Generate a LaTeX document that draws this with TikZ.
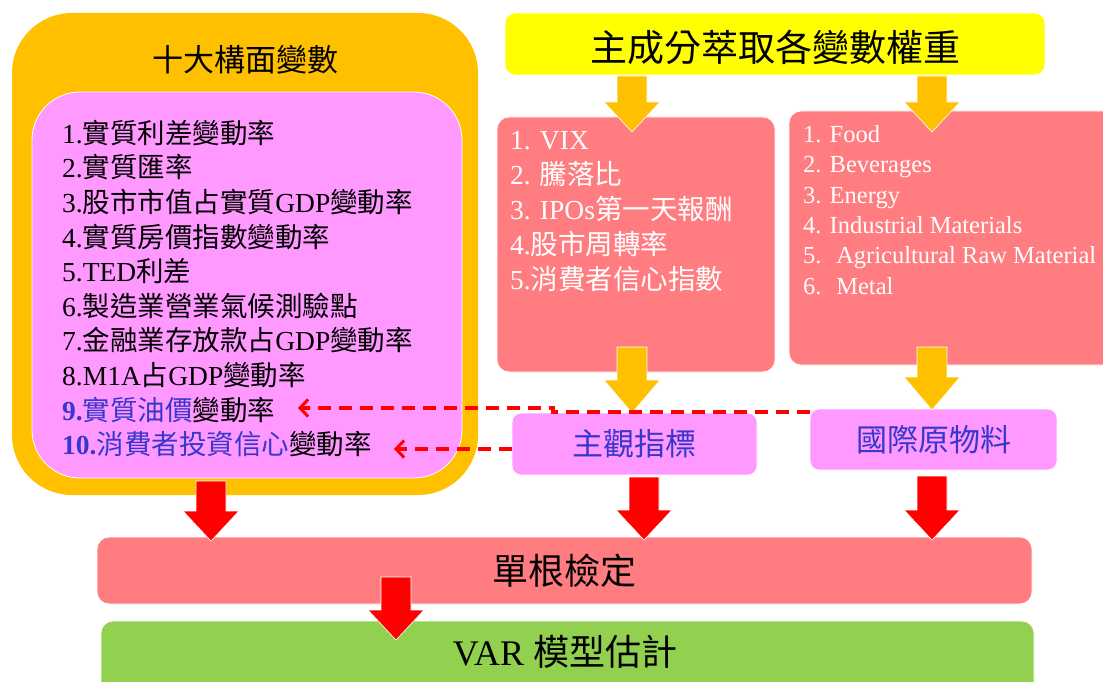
\documentclass[tikz,border=0pt]{standalone}
\usepackage{fontspec}
\setmainfont{Liberation Serif}
\newfontfamily\cjk{Noto Sans CJK TC}
\usetikzlibrary{arrows.meta}
\definecolor{orangeC}{RGB}{255,192,0}
\definecolor{pinkC}{RGB}{255,153,255}
\definecolor{salmonC}{RGB}{255,124,128}
\definecolor{yellowC}{RGB}{255,255,0}
\definecolor{greenC}{RGB}{146,208,80}
\definecolor{blueT}{RGB}{55,55,205}
\definecolor{redC}{RGB}{255,0,0}
\newcommand\fs[2]{\fontsize{#1}{#2}\selectfont}
\newcommand\blockarrow[5]{% colour, x, ytop, ytip, head length
  \fill[#1,draw=white,line width=0.6] ({#2-15},#3) -- ({#2+15},#3) -- ({#2+15},{#4-#5}) -- ({#2+28},{#4-#5}) -- (#2,#4) -- ({#2-28},{#4-#5}) -- ({#2-15},{#4-#5}) -- cycle;}
\begin{document}
\begin{tikzpicture}[x=1pt,y=-1pt,
  boxbase/.style={inner sep=0pt, outer sep=0pt, draw=white, line width=0.8pt},
  listtext/.style={inner sep=0pt, align=left, anchor=west},
  dasharrow/.style={draw=redC, line width=3.2pt, dash pattern=on 13pt off 8pt, -{Straight Barb[length=8pt,width=17pt,line width=3pt]}}]
\useasboundingbox (0,0) rectangle (1103,682);
\clip (0,0) rectangle (1103,682);

% left group
\node[boxbase, fill=orangeC, draw=none, rounded corners=60pt, minimum width=466pt, minimum height=482pt] (outer) at (245,254) {};
\node[boxbase, fill=pinkC, rounded corners=48pt, minimum width=430pt, minimum height=386pt] (inner) at (247,285) {};
\node[inner sep=0pt] (title) at (245,60) {\cjk\fs{31}{36}十大構面變數};
\node[listtext, font={\fs{27.5}{34.6}}] (list) at (62,288.5) {%
1.{\cjk 實質利差變動率}\\
2.{\cjk 實質匯率}\\
3.{\cjk 股市市值占實質}GDP{\cjk 變動率}\\
4.{\cjk 實質房價指數變動率}\\
5.TED{\cjk 利差}\\
6.{\cjk 製造業營業氣候測驗點}\\
7.{\cjk 金融業存放款占}GDP{\cjk 變動率}\\
8.M1A{\cjk 占}GDP{\cjk 變動率}\\
{\color{blueT}\bfseries 9.{\cjk\mdseries 實質油價}}{\cjk 變動率}\\
{\color{blueT}\bfseries 10.{\cjk\mdseries 消費者投資信心}}{\cjk 變動率}};

% top right
\node[boxbase, fill=yellowC, rounded corners=10pt, minimum width=540pt, minimum height=62pt] (pca) at (775,44) {};
\node[inner sep=0pt] (pcatext) at (775,47) {\cjk\fs{37}{42}主成分萃取各變數權重};

\node[boxbase, fill=salmonC, rounded corners=12pt, minimum width=278pt, minimum height=255pt] (subjlist) at (636,244.5) {};
\node[listtext, text=white, font={\fs{27.5}{35}}] (subjtext) at (510,212) {%
1. VIX\\
2. {\cjk 騰落比}\\
3. IPOs{\cjk 第一天報酬}\\
4.{\cjk 股市周轉率}\\
5.{\cjk 消費者信心指數}};

\node[boxbase, fill=salmonC, rounded corners=12pt, minimum width=331pt, minimum height=254pt] (rawlist) at (954.5,238) {};
\node[listtext, text=white, font={\fs{24.5}{30.4}}] (rawtext) at (803,210) {%
1. Food\\
2. Beverages\\
3. Energy\\
4. Industrial Materials\\
5.\hspace{0.6em}Agricultural Raw Material\\
6.\hspace{0.6em}Metal};

\node[boxbase, fill=pinkC, rounded corners=9pt, minimum width=245pt, minimum height=62pt, text=blueT, font=\cjk\fs{31}{36}] (subj) at (634.5,444) {主觀指標};
\node[boxbase, fill=pinkC, rounded corners=9pt, minimum width=247pt, minimum height=61pt, text=blueT, font=\cjk\fs{31}{36}] (raw) at (933.5,439.5) {國際原物料};

% bottom
\node[boxbase, fill=salmonC, rounded corners=12pt, minimum width=935pt, minimum height=67pt, font=\cjk\fs{36}{40}] (unit) at (564.5,570.5) {單根檢定};
\node[boxbase, fill=greenC, rounded corners=12pt, minimum width=933pt, minimum height=80pt] (var) at (567.5,661) {};
\node[inner sep=0pt] (vartext) at (565,652) {\fs{36}{40}VAR {\cjk 模型估計}};

% block arrows
\blockarrow{orangeC}{632}{76}{132}{30}
\blockarrow{orangeC}{932}{76}{132}{30}
\blockarrow{orangeC}{632}{347}{413}{33}
\blockarrow{orangeC}{932}{347}{410}{33}
\blockarrow{redC}{211}{481}{541}{30}
\blockarrow{redC}{644}{477}{540}{30}
\blockarrow{redC}{932}{476}{540}{30}
\blockarrow{redC}{396}{577}{640}{30}

% dashed arrows
\coordinate (d1s) at ([yshift=-3pt]raw.north west);
\coordinate (a9) at (298,408);
\coordinate (d2s) at ([yshift=-5pt]subj.west);
\coordinate (a10) at (394,449);
\draw[dasharrow] (d1s) -- (553,412) -- (553,408) -- (a9);
\draw[dasharrow] (d2s) -- (a10);
\end{tikzpicture}
\end{document}
